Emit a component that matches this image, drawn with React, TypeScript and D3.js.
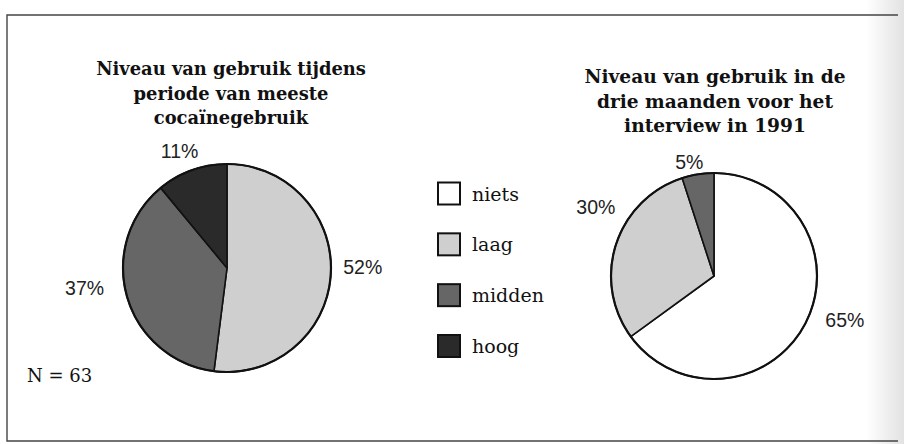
import React from "react";
import * as d3 from "d3";

const categories = ["niets", "laag", "midden", "hoog"];
const colors = ["#ffffff", "#cfcfcf", "#666666", "#2a2a2a"];

// left pie: period of heaviest cocaine use (starting at 12 o'clock, clockwise)
const leftCats = ["laag", "midden", "hoog"];
const leftValues = [52, 37, 11];
const leftTitle = ["Niveau van gebruik tijdens", "periode van meeste", "cocaïnegebruik"];

// right pie: three months before the interview in 1991
const rightCats = ["niets", "laag", "midden"];
const rightValues = [65, 30, 5];
const rightTitle = ["Niveau van gebruik in de", "drie maanden voor het", "interview in 1991"];

const nLabel = "N = 63";

const W = 904;
const H = 444;

const color = d3.scaleOrdinal<string, string>().domain(categories).range(colors);

type Nudge = { dx: number; dy: number };

function Pie({
  cx,
  cy,
  r,
  cats,
  values,
  nudges,
}: {
  cx: number;
  cy: number;
  r: number;
  cats: string[];
  values: number[];
  nudges: Nudge[];
}) {
  const data = cats.map((c, i) => ({ cat: c, value: values[i] }));
  const pie = d3
    .pie<{ cat: string; value: number }>()
    .sort(null)
    .value((d) => d.value)
    .startAngle(0)
    .endAngle(2 * Math.PI);
  const arcs = pie(data);
  const arc = d3.arc<d3.PieArcDatum<{ cat: string; value: number }>>().innerRadius(0).outerRadius(r);
  const rx = r + 36;
  const ry = r + 16;
  return (
    <g transform={`translate(${cx},${cy})`}>
      {arcs.map((a, i) => (
        <path key={i} d={arc(a) || ""} fill={color(a.data.cat)} stroke="#111" strokeWidth={1.6} strokeLinejoin="round" />
      ))}
      <circle r={r} fill="none" stroke="#111" strokeWidth={2.2} />
      {arcs.map((a, i) => {
        const mid = (a.startAngle + a.endAngle) / 2;
        const x = rx * Math.sin(mid) + nudges[i].dx;
        const y = -ry * Math.cos(mid) + nudges[i].dy;
        return (
          <text
            key={"l" + i}
            x={x}
            y={y}
            textAnchor="middle"
            dominantBaseline="central"
            fontFamily="'Liberation Sans', Arial, sans-serif"
            fontSize={19.5}
            fill="#222"
          >
            {a.data.value}%
          </text>
        );
      })}
    </g>
  );
}

function Title({ lines, cx, y0, size }: { lines: string[]; cx: number; y0: number; size: number }) {
  return (
    <text
      textAnchor="middle"
      fontFamily="'DejaVu Serif', serif"
      fontWeight="bold"
      fontSize={size}
      fill="#111"
    >
      {lines.map((l, i) => (
        <tspan key={i} x={cx} y={y0 + i * 24.5}>
          {l}
        </tspan>
      ))}
    </text>
  );
}

export default function App() {
  const legendY = d3.scalePoint<string>().domain(categories).range([193.5, 346]);
  return (
    <svg
      width={W}
      height={H}
      viewBox={`0 0 ${W} ${H}`}
      style={{ position: "absolute", left: 0, top: 0, background: "#fff" }}
    >
      <defs>
        <linearGradient id="edge" x1="0" x2="1" y1="0" y2="0">
          <stop offset="0" stopColor="#ffffff" />
          <stop offset="1" stopColor="#e2e2e2" />
        </linearGradient>
      </defs>
      <rect x={0} y={0} width={W} height={H} fill="#fff" />
      <rect x={866} y={0} width={38} height={H} fill="url(#edge)" />
      <polyline
        points="898,15 7,15 7,441 898,441"
        fill="none"
        stroke="#444"
        strokeWidth={1.4}
      />

      <Title lines={leftTitle} cx={231} y0={75} size={17.9} />
      <Title lines={rightTitle} cx={715} y0={83} size={18.6} />

      <Pie
        cx={227}
        cy={268}
        r={104}
        cats={leftCats}
        values={leftValues}
        nudges={[
          { dx: -4, dy: -9 },
          { dx: -8, dy: -13 },
          { dx: 0, dy: -4 },
        ]}
      />
      <Pie
        cx={714}
        cy={276}
        r={103}
        cats={rightCats}
        values={rightValues}
        nudges={[
          { dx: 7, dy: -10 },
          { dx: 14, dy: -32 },
          { dx: -3, dy: 4 },
        ]}
      />

      {categories.map((c) => {
        const y = legendY(c) as number;
        return (
          <g key={c}>
            <rect x={438} y={y - 11} width={22} height={22} fill={color(c)} stroke="#111" strokeWidth={2} />
            <text
              x={472}
              y={y + 7}
              fontFamily="'DejaVu Serif', serif"
              fontSize={19}
              fill="#111"
            >
              {c}
            </text>
          </g>
        );
      })}

      <text x={27} y={382} fontFamily="'DejaVu Serif', serif" fontSize={18} fill="#111">
        {nLabel}
      </text>
    </svg>
  );
}
